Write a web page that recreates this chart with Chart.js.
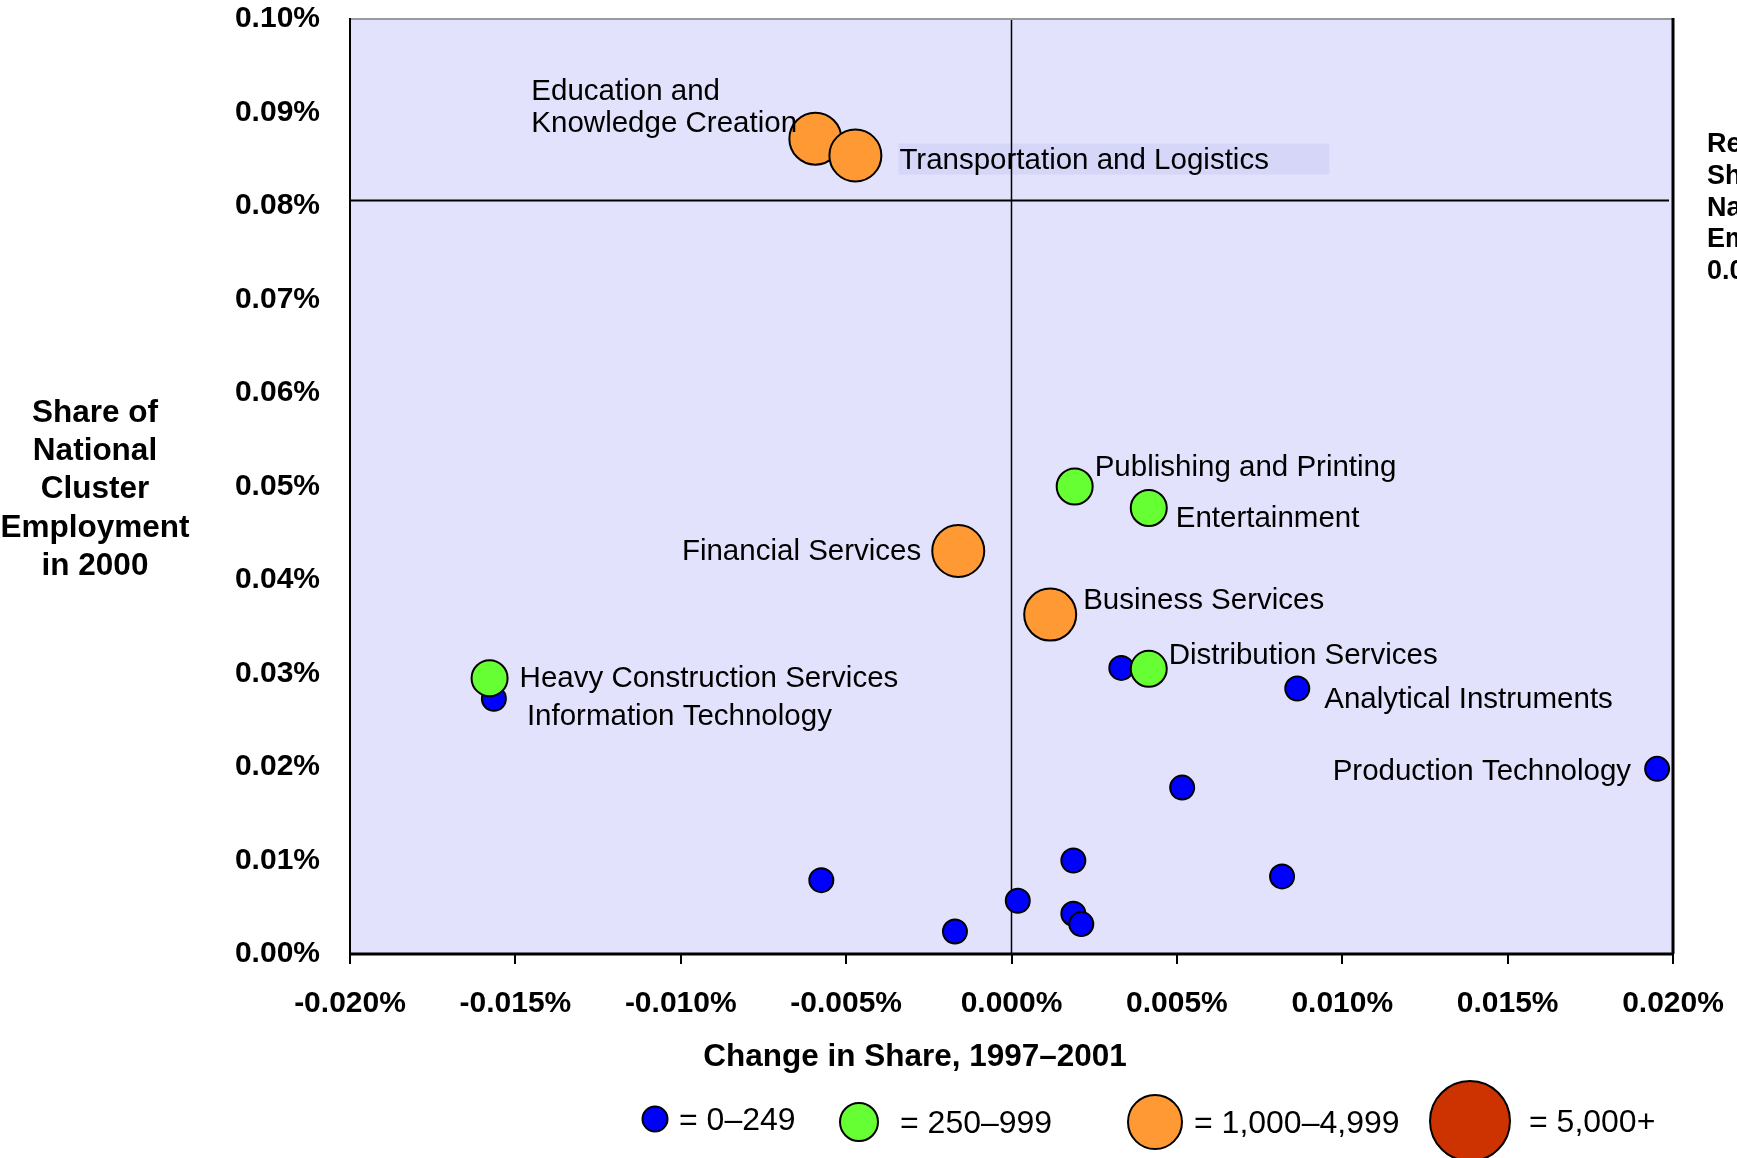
<!DOCTYPE html>
<html>
<head>
<meta charset="utf-8">
<script src="https://cdn.jsdelivr.net/npm/chart.js@4"></script>
<style>
  html, body { margin: 0; padding: 0; background: #fff; }
  canvas { display: block; }
</style>
</head>
<body>
<canvas id="clusterChart" width="1737" height="1158"></canvas>
<script>
// Data (share values in percent)
const clusterNames = [
  'Information Technology', '', 'Analytical Instruments', 'Production Technology', '', '', '', '', '', '', '', '',
  'Heavy Construction Services', 'Publishing and Printing', 'Entertainment', 'Distribution Services',
  'Financial Services', 'Business Services', 'Education and Knowledge Creation', 'Transportation and Logistics'
];
const changeShare = [
  -0.01565, 0.00332, 0.00864, 0.01952, 0.00516, 0.00187, -0.00575, 0.00818, 0.00019, -0.00171, 0.00187, 0.00211,
  -0.01578, 0.00191, 0.00415, 0.00415,
  -0.00161, 0.00117, -0.00593, -0.00472
];
const nationalShare = [
  0.0273, 0.0306, 0.0284, 0.0198, 0.0178, 0.0100, 0.0079, 0.0083, 0.0057, 0.0024, 0.0043, 0.0032,
  0.0295, 0.0500, 0.0477, 0.0305,
  0.0431, 0.0363, 0.0872, 0.0854
];
// 0 = 0–249, 1 = 250–999, 2 = 1,000–4,999, 3 = 5,000+
const sizeClass = [0, 0, 0, 0, 0, 0, 0, 0, 0, 0, 0, 0, 1, 1, 1, 1, 2, 2, 2, 2];
const regionShare = 0.0806;

const xTickValues = [-0.02, -0.015, -0.01, -0.005, 0, 0.005, 0.01, 0.015, 0.02];
const xTickLabels = ['-0.020%', '-0.015%', '-0.010%', '-0.005%', '0.000%', '0.005%', '0.010%', '0.015%', '0.020%'];
const yTickValues = [0, 0.01, 0.02, 0.03, 0.04, 0.05, 0.06, 0.07, 0.08, 0.09, 0.1];
const yTickLabels = ['0.00%', '0.01%', '0.02%', '0.03%', '0.04%', '0.05%', '0.06%', '0.07%', '0.08%', '0.09%', '0.10%'];
const legendLabels = ['= 0–249', '= 250–999', '= 1,000–4,999', '= 5,000+'];
const xTitle = 'Change in Share, 1997–2001';
const yTitle = ['Share of', 'National', 'Cluster', 'Employment', 'in 2000'];
const refTitle = ["Region's", 'Share of', 'National', 'Employment', '0.08%'];

// Estilos
const FONT = "'Liberation Sans', Arial, sans-serif";
const classColors = ['#0000ff', '#66ff33', '#ff9933', '#cc3300'];
const classRadius = [12, 18, 26, 39];
const labelStyle = {
  'Education and Knowledge Creation': { lines: ['Education and', 'Knowledge Creation'], dx: -284, dy: -47, align: 'left' },
  'Transportation and Logistics': { dx: 44, dy: 5, align: 'left', box: { dx: 43, dy: -12, w: 431, h: 31 } },
  'Publishing and Printing': { dx: 20, dy: -19, align: 'left' },
  'Entertainment': { dx: 27, dy: 11, align: 'left' },
  'Financial Services': { dx: -37, dy: 1, align: 'right' },
  'Business Services': { dx: 33, dy: -14, align: 'left' },
  'Distribution Services': { dx: 20, dy: -13, align: 'left' },
  'Heavy Construction Services': { dx: 30, dy: 1, align: 'left' },
  'Information Technology': { dx: 33, dy: 18, align: 'left' },
  'Analytical Instruments': { dx: 27, dy: 11, align: 'left' },
  'Production Technology': { dx: -26, dy: 3, align: 'right' }
};

function noPadding(s) {
  s.paddingTop = 0; s.paddingBottom = 0; s.paddingLeft = 0; s.paddingRight = 0;
}

const decor = {
  id: 'decor',
  beforeDraw(chart) {
    const { ctx, chartArea: a } = chart;
    ctx.save();
    ctx.fillStyle = '#e2e2fc';
    ctx.fillRect(a.left, a.top, a.right - a.left, a.bottom - a.top);
    ctx.restore();
  },
  beforeDatasetsDraw(chart) {
    const { ctx, chartArea: a, scales: { x, y } } = chart;
    const meta = chart.getDatasetMeta(0);
    ctx.save();
    // fondo de la etiqueta resaltada
    clusterNames.forEach((name, i) => {
      const st = labelStyle[name];
      if (!st || !st.box) return;
      const p = meta.data[i];
      ctx.fillStyle = '#d6d6f8';
      ctx.fillRect(p.x + st.box.dx, p.y + st.box.dy, st.box.w, st.box.h);
    });
    ctx.strokeStyle = '#000';
    ctx.lineWidth = 1.5;
    const x0 = x.getPixelForValue(0);
    ctx.beginPath(); ctx.moveTo(x0, a.top); ctx.lineTo(x0, a.bottom); ctx.stroke();
    ctx.lineWidth = 2;
    const yr = y.getPixelForValue(regionShare);
    ctx.beginPath(); ctx.moveTo(a.left, yr); ctx.lineTo(a.right - 4, yr); ctx.stroke();
    ctx.restore();
  },
  afterDatasetsDraw(chart) {
    const { ctx, chartArea: a } = chart;
    const meta = chart.getDatasetMeta(0);
    ctx.save();
    // etiquetas de los clusters
    ctx.fillStyle = '#000';
    ctx.font = '29.5px ' + FONT;
    ctx.textBaseline = 'middle';
    clusterNames.forEach((name, i) => {
      const st = labelStyle[name];
      if (!st) return;
      const p = meta.data[i];
      const lines = st.lines || [name];
      ctx.textAlign = st.align;
      lines.forEach((ln, k) => ctx.fillText(ln, p.x + st.dx, p.y + st.dy + k * 32));
    });
    // marco
    ctx.lineWidth = 2;
    ctx.strokeStyle = '#9a9a9a';
    ctx.beginPath(); ctx.moveTo(a.left, a.top); ctx.lineTo(a.right, a.top); ctx.stroke();
    ctx.strokeStyle = '#000';
    ctx.beginPath(); ctx.moveTo(a.left, a.top - 1); ctx.lineTo(a.left, a.bottom); ctx.stroke();
    ctx.lineWidth = 3;
    ctx.beginPath(); ctx.moveTo(a.right, a.top - 1); ctx.lineTo(a.right, a.bottom); ctx.stroke();
    ctx.beginPath(); ctx.moveTo(a.left - 1, a.bottom); ctx.lineTo(a.right + 1, a.bottom); ctx.stroke();
    // títulos de ejes
    ctx.font = 'bold 31.5px ' + FONT;
    ctx.textAlign = 'center';
    ctx.fillText(xTitle, 915, 1057);
    yTitle.forEach((ln, k) => ctx.fillText(ln, 95, 413 + k * 38.3));
    ctx.font = 'bold 27px ' + FONT;
    ctx.textAlign = 'left';
    refTitle.forEach((ln, k) => ctx.fillText(ln, 1707, 145 + k * 31.6));
    // leyenda
    const lx = [655, 859, 1155, 1470];
    const ly = [1119, 1122, 1122, 1121];
    const tx = [679, 900, 1194, 1529];
    ctx.font = '32px ' + FONT;
    legendLabels.forEach((lab, k) => {
      ctx.beginPath();
      ctx.arc(lx[k], ly[k], [12.5, 19, 27, 40][k], 0, Math.PI * 2);
      ctx.fillStyle = classColors[k];
      ctx.fill();
      ctx.lineWidth = 2;
      ctx.strokeStyle = '#000';
      ctx.stroke();
      ctx.fillStyle = '#000';
      ctx.fillText(lab, tx[k], ly[k] + 2);
    });
    ctx.restore();
  }
};

new Chart(document.getElementById('clusterChart'), {
  type: 'bubble',
  data: {
    datasets: [{
      data: changeShare.map((v, i) => ({ x: v, y: nationalShare[i], r: classRadius[sizeClass[i]] })),
      backgroundColor: sizeClass.map(c => classColors[c]),
      borderColor: '#000',
      borderWidth: 2,
      clip: false
    }]
  },
  options: {
    responsive: false,
    animation: false,
    events: [],
    layout: { padding: { left: 0, right: 64, top: 19, bottom: 0 }, autoPadding: false },
    plugins: { legend: { display: false }, tooltip: { enabled: false } },
    scales: {
      x: {
        type: 'linear', min: -0.02, max: 0.02,
        afterFit(s) { s.height = 204; noPadding(s); },
        afterBuildTicks(s) { s.ticks = xTickValues.map(v => ({ value: v })); },
        ticks: { callback: (v, i) => xTickLabels[i], color: '#000', font: { family: FONT, size: 30, weight: 'bold' }, padding: 22, maxRotation: 0, autoSkip: false },
        grid: { drawOnChartArea: false, drawTicks: true, tickLength: 10, color: '#000', lineWidth: 2 },
        border: { display: false }
      },
      y: {
        type: 'linear', min: 0, max: 0.1,
        afterFit(s) { s.width = 350; noPadding(s); },
        afterBuildTicks(s) { s.ticks = yTickValues.map(v => ({ value: v })); },
        ticks: { callback: (v, i) => yTickLabels[i], color: '#000', font: { family: FONT, size: 30, weight: 'bold' }, padding: 30, autoSkip: false },
        grid: { display: false, drawTicks: false },
        border: { display: false }
      }
    }
  },
  plugins: [decor]
});
</script>
</body>
</html>
